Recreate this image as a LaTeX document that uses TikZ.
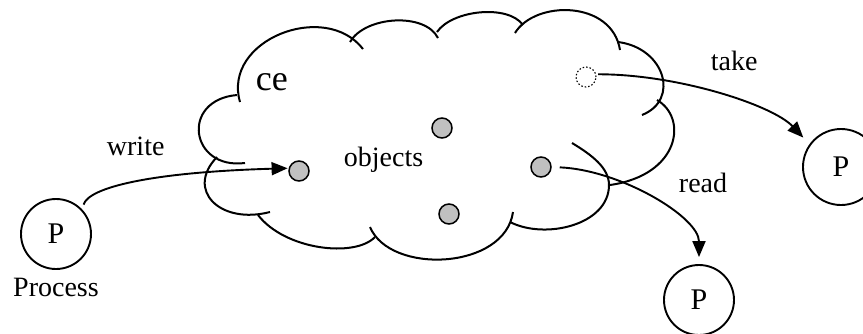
\documentclass[tikz,border=0pt]{standalone}
\usepackage{fontspec}
\setmainfont{Liberation Serif}
\usepackage{tikz}
\usetikzlibrary{arrows.meta,positioning}

\definecolor{objgray}{RGB}{192,192,192}

\begin{document}
\begin{tikzpicture}[x=1pt,y=-1pt,>={Triangle[length=16pt,width=13pt]},line width=1.9pt,
	proc/.style={draw=black,circle,minimum size=70pt,inner sep=0pt,font=\fontsize{30}{36}\selectfont},
	obj/.style={draw=black,circle,fill=objgray,minimum size=20pt,inner sep=0pt,line width=1.5pt},
	lbl/.style={inner sep=0pt,anchor=base west,font=\fontsize{28}{34}\selectfont},
	puff/.style={line width=2pt}]
	\useasboundingbox (0,0) rectangle (863,333);

	% the space, one arc per puff
	\draw[puff] (240,102) .. controls (222,40) and (325,0) .. (363,49);
	\draw[puff] (350,42) .. controls (365,16) and (425,12) .. (438,38);
	\draw[puff] (437,32) .. controls (452,10) and (508,4) .. (523,25);
	\draw[puff] (515,33) .. controls (535,0) and (612,0) .. (620,50);
	\draw[puff] (618,42) .. controls (665,48) and (680,100) .. (642,115);
	\draw[puff] (657,100) .. controls (688,118) and (680,175) .. (610,185);
	\draw[puff] (572,143) .. controls (592,155) and (609,168) .. (609,185)
		.. controls (609,225) and (545,240) .. (510,222);
	\draw[puff] (513,212) .. controls (505,270) and (390,275) .. (370,227);
	\draw[puff] (375,237) .. controls (355,258) and (285,250) .. (258,215);
	\draw[puff] (270,212) .. controls (220,225) and (185,190) .. (217,157);
	\draw[puff] (245,163) .. controls (190,170) and (180,100) .. (237,95);

	\node[proc]					(procL)		at (56,234)		{P};
	\node[lbl,below=7pt of procL]	(process)					{Process};
	\node[proc]					(procB)		at (699,300)	{P};
	\node[proc,minimum size=76pt]	(procR)		at (841,167)	{P};

	\node[obj]					(dotW)		at (299,171)	{};
	\node[obj]					(dotN)		at (442,128)	{};
	\node[obj]					(dotE)		at (541,167)	{};
	\node[obj]					(dotS)		at (449,214)	{};
	\node[obj,fill=none,dotted,line width=1.1pt]	(dotT)	at (586,77)	{};

	\node[lbl,font=\fontsize{36}{42}\selectfont]	(space)	at (255,90)	{ce};
	\node[lbl]					(objs)		at (343,166)	{objects};
	\node[lbl]					(write)		at (106,155)	{write};
	\node[lbl]					(take)		at (710,70)		{take};
	\node[lbl]					(read)		at (678,192)	{read};

	\draw[->,shorten <=5pt,shorten >=1pt] (procL.43) .. controls +(6,-22) and +(-138,4) .. (dotW.165);
	\draw[->,shorten <=2pt,shorten >=9pt] (dotT.15) .. controls +(82,0) and +(-37,-39) .. (procR.144);
	\draw[->,shorten <=8pt,shorten >=7pt] (dotE.east) .. controls +(69,3) and +(0,-47) .. (procB.north);
\end{tikzpicture}
\end{document}
